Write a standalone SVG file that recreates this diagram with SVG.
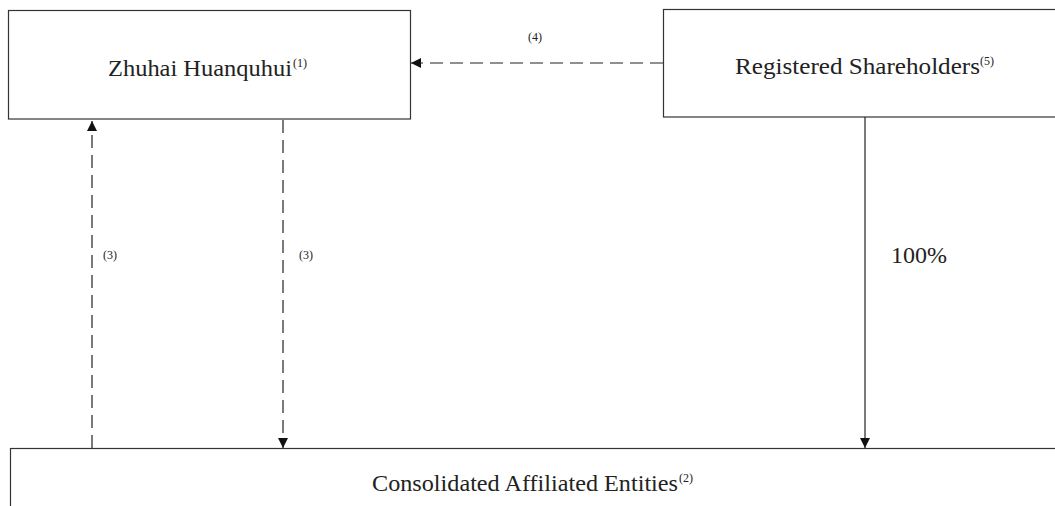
<svg xmlns="http://www.w3.org/2000/svg" width="1055" height="506" viewBox="0 0 1055 506">
<defs>
<marker id="ah" viewBox="0 0 10 10" refX="10" refY="5" markerWidth="11" markerHeight="10" markerUnits="userSpaceOnUse" orient="auto">
<path d="M0,0 L10,5 L0,10 Z" fill="#111"/>
</marker>
<style>
.box{fill:#fff;stroke:#333;stroke-width:1.2}
.t{font-family:"Liberation Serif","Times New Roman",serif;font-size:24px;fill:#222}
.sup{font-family:"Liberation Serif","Times New Roman",serif;font-size:12px;fill:#222}
.s{font-family:"Liberation Serif","Times New Roman",serif;font-size:12px;fill:#222}
.d{stroke:#222;stroke-width:1.2;fill:none;stroke-dasharray:13,7}
.l{stroke:#222;stroke-width:1.2;fill:none}
</style>
</defs>
<rect width="1055" height="506" fill="#fff"/>
<g id="zhuhai">
<rect class="box" x="8.5" y="10.5" width="402" height="108.5"/>
<text class="t" x="108" y="76" textLength="184" lengthAdjust="spacingAndGlyphs">Zhuhai Huanquhui</text>
<text class="sup" x="293" y="67">(1)</text>
</g>
<g id="registered">
<rect class="box" x="663.5" y="9.5" width="400" height="107.5"/>
<text class="t" x="735" y="74" textLength="245" lengthAdjust="spacingAndGlyphs">Registered Shareholders</text>
<text class="sup" x="980" y="65">(5)</text>
</g>
<g id="consolidated">
<rect class="box" x="10.5" y="448.5" width="1060" height="80"/>
<text class="t" x="372" y="491" textLength="306" lengthAdjust="spacingAndGlyphs">Consolidated Affiliated Entities</text>
<text class="sup" x="679" y="482">(2)</text>
</g>
<g id="connectors">
<path class="d" d="M663,63 L411,63" marker-end="url(#ah)"/>
<text class="s" x="528" y="41">(4)</text>
<path class="d" d="M92,448 L92,121" marker-end="url(#ah)"/>
<text class="s" x="103" y="259">(3)</text>
<path class="d" d="M283,120 L283,448" marker-end="url(#ah)"/>
<text class="s" x="299" y="259">(3)</text>
<path class="l" d="M865,117 L865,448" marker-end="url(#ah)"/>
<text class="t" x="891" y="263" textLength="56" lengthAdjust="spacingAndGlyphs">100%</text>
</g>
</svg>
